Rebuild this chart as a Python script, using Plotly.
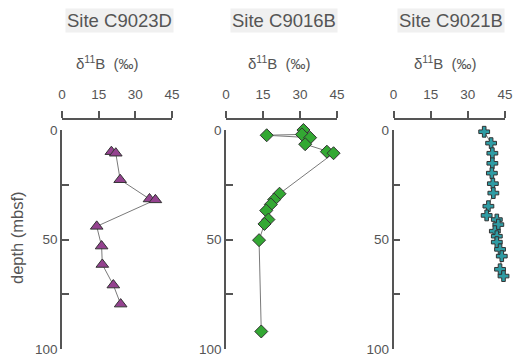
import plotly.graph_objects as go

# ---- data ----
sites = ["Site C9023D", "Site C9016B", "Site C9021B"]

c9023d_depth = [9.9, 10.6, 22.7, 31.5, 31.9, 44.0, 53.0, 61.4, 70.8, 79.5]
c9023d_d11b = [20.2, 22.0, 23.8, 35.8, 38.2, 14.2, 16.2, 16.5, 21.0, 24.0]

c9016b_depth = [0.0, 2.0, 2.4, 3.5, 6.5, 9.9, 10.6, 29.1, 31.8, 34.0, 36.8, 40.9, 42.9, 50.3, 92.0]
c9016b_d11b = [31.4, 30.8, 16.5, 34.1, 32.1, 40.9, 43.6, 21.7, 19.5, 18.2, 16.3, 17.2, 15.6, 13.4, 14.3]

c9021b_depth = [0.8, 6.0, 10.6, 15.2, 19.7, 24.5, 28.8, 34.8, 39.0, 40.9, 43.2, 46.2, 48.5,
                51.2, 54.5, 57.6, 63.6, 66.7]
c9021b_d11b = [36.6, 39.4, 39.9, 39.9, 39.7, 40.1, 40.3, 38.3, 37.6, 41.7, 42.3, 40.9, 41.7,
               41.7, 43.0, 43.7, 43.0, 44.4]

x_ticks = [0, 15, 30, 45]
y_ticks = [0, 50, 100]
y_minor_ticks = [25, 75]

W, H = 513, 357
FONT = "Arial, Liberation Sans, sans-serif"
TXT = "#555555"
AX = "#555555"

# panel pixel geometry (x of value 0 and value 45)
panels_px = [(62, 172), (226, 337), (393.5, 505)]
y_top_px, y_bot_px = 130, 349
xaxis_line_px = 118.5

series = [
    (c9023d_d11b, c9023d_depth, "triangle-up", "#94428f", 11),
    (c9016b_d11b, c9016b_depth, "diamond", "#33a833", 10),
    (c9021b_d11b, c9021b_depth, "cross", "#2f9ca4", 9),
]

fig = go.Figure()
layout = dict(
    width=W, height=H, autosize=False,
    margin=dict(l=0, r=0, t=0, b=0, pad=0),
    paper_bgcolor="white", plot_bgcolor="white",
    showlegend=False,
    font=dict(family=FONT, color=TXT),
)

annotations = []
title_cx = [119, 284, 451]
delta_cx = [107, 279, 445]

for i, ((x0, x1), (xs, ys, sym, col, msz)) in enumerate(zip(panels_px, series)):
    n = "" if i == 0 else str(i + 1)
    fig.add_trace(go.Scatter(
        x=xs, y=ys, mode="lines+markers",
        xaxis="x" + n, yaxis="y" + n,
        line=dict(color="#7a7a7a", width=1),
        marker=dict(symbol=sym, size=msz, color=col,
                    line=dict(color="#333333", width=1)),
        cliponaxis=False,
    ))
    layout["xaxis" + n] = dict(
        domain=[x0 / W, x1 / W], range=[0, 45], automargin=False,
        side="top", anchor="free", position=1 - xaxis_line_px / H,
        tickvals=x_ticks, ticks="outside", ticklen=7, tickwidth=1.5, tickcolor=AX,
        ticklabelstandoff=6,
        showline=True, linecolor=AX, linewidth=1.5,
        showgrid=False, zeroline=False,
        tickfont=dict(size=13.5, color=TXT, family=FONT),
    )
    layout["yaxis" + n] = dict(
        domain=[1 - y_bot_px / H, 1 - y_top_px / H], range=[100, 0], automargin=False,
        anchor="x" + n,
        tickvals=y_ticks,
        ticks="inside", ticklen=7, tickwidth=1.5, tickcolor=AX,
        minor=dict(tickvals=y_minor_ticks, ticks="inside", ticklen=7,
                   tickwidth=1.5, tickcolor=AX, showgrid=False),
        showline=True, linecolor=AX, linewidth=1.5,
        showgrid=False, zeroline=False,
        tickfont=dict(size=13.5, color=TXT, family=FONT),
    )
    annotations.append(dict(
        text=sites[i], x=title_cx[i] / W, y=1 - 20 / H, xref="paper", yref="paper",
        xanchor="center", yanchor="middle", showarrow=False,
        font=dict(size=18.5, color=TXT, family=FONT), bgcolor="#f0f0f0",
    ))
    annotations.append(dict(
        text="δ<sup>11</sup>B  (‰)", x=delta_cx[i] / W, y=1 - 62 / H,
        xref="paper", yref="paper",
        xanchor="center", yanchor="middle", showarrow=False,
        font=dict(size=15, color=TXT, family=FONT),
    ))

annotations.append(dict(
    text="depth (mbsf)", x=17 / W, y=1 - 238 / H, xref="paper", yref="paper",
    xanchor="center", yanchor="middle", showarrow=False, textangle=-90,
    font=dict(size=16.5, color=TXT, family=FONT),
))
layout["annotations"] = annotations
fig.update_layout(**layout)
fig.write_html(
    "out.html",
    config={"displayModeBar": False},
    post_script="document.body.style.margin='0';document.body.style.overflow='hidden';",
)
